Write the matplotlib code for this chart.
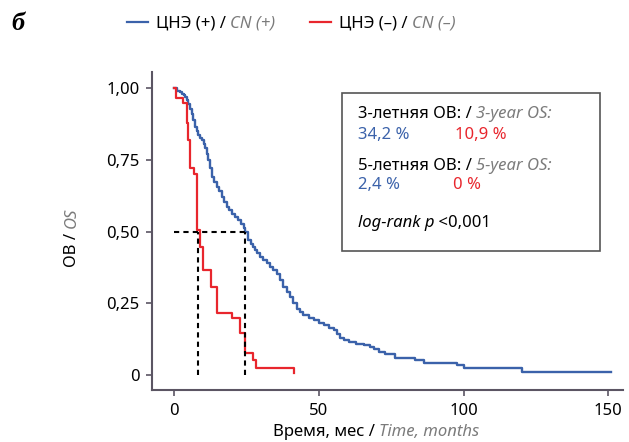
import matplotlib
matplotlib.use("Agg")
import matplotlib.pyplot as plt

plt.rcParams['font.family'] = ['Noto Sans', 'DejaVu Sans']

# survival curves (months, OS)
cn_pos_t = [0, 1.1, 1.9, 2.7, 3.3, 3.8, 4.4, 4.9, 5.5, 6.1,
            6.7, 7.3, 7.9, 8.4, 9.0, 9.6, 10.2, 10.7, 11.3, 11.9,
            12.5, 13.0, 13.9, 14.7, 15.6, 16.5, 17.4, 18.2, 19.0, 19.9,
            21.0, 22.2, 23.1, 24.0, 24.6, 25.7, 26.5, 27.4, 28.0, 28.6,
            29.8, 30.9, 32.0, 33.2, 34.3, 35.5, 36.6, 37.8, 38.9, 40.1,
            41.2, 42.4, 43.5, 44.7, 46.5, 48.2, 50.0, 51.7, 53.4, 55.1,
            56.3, 57.4, 58.8, 60.3, 63.0, 65.5, 67.8, 69.2, 70.7, 73.0,
            76.5, 83.4, 86.2, 97.8, 100.1, 120.2, 150.9]
cn_pos_s = [1.0, 0.99, 0.985, 0.981, 0.976, 0.970, 0.958, 0.946, 0.928, 0.911,
            0.888, 0.865, 0.850, 0.836, 0.827, 0.819, 0.805, 0.790, 0.770, 0.749,
            0.720, 0.691, 0.674, 0.657, 0.640, 0.622, 0.604, 0.586, 0.575, 0.563,
            0.552, 0.540, 0.525, 0.511, 0.50, 0.470, 0.458, 0.447, 0.435, 0.424,
            0.412, 0.401, 0.389, 0.377, 0.366, 0.354, 0.331, 0.308, 0.290, 0.273,
            0.252, 0.232, 0.220, 0.209, 0.200, 0.192, 0.183, 0.174, 0.165, 0.157,
            0.142, 0.128, 0.122, 0.116, 0.107, 0.105, 0.099, 0.090, 0.081, 0.075,
            0.061, 0.052, 0.043, 0.035, 0.023, 0.012, 0.012]

cn_neg_t = [0, 0.8, 3.2, 4.4, 4.8, 5.5, 7.0, 8.0, 9.0, 10.0, 12.8, 14.8, 20.0, 22.8, 24.6,
            27.4, 28.4, 41.3]
cn_neg_s = [1.0, 0.965, 0.948, 0.88, 0.82, 0.72, 0.70, 0.505, 0.446, 0.366, 0.307, 0.216,
            0.199, 0.146, 0.077, 0.052, 0.024, 0.006]

median_pos = 24.6
median_neg = 8.2

xticks = [0, 50, 100, 150]
yticks = [0, 0.25, 0.5, 0.75, 1.0]
ytick_labels = ["0", "0,25", "0,50", "0,75", "1,00"]

BLUE = "#3b62aa"
RED = "#e8262d"
GRAY = "#7b7b7b"
SPINE = "#5b5563"

fig = plt.figure(figsize=(6.29, 4.42), dpi=100)
ax = fig.add_axes([0.2417, 0.1176, 0.7483, 0.7194])

ax.step(cn_pos_t, cn_pos_s, where="post", color=BLUE, lw=1.7)
ax.step(cn_neg_t, cn_neg_s, where="post", color=RED, lw=1.6)

# medians
dash = (0, (2.5, 2))
ax.plot([0, median_pos], [0.5, 0.5], color="black", ls=dash, lw=1.5)
ax.plot([median_neg, median_neg], [0, 0.5], color="black", ls=dash, lw=1.5)
ax.plot([median_pos, median_pos], [0, 0.5], color="black", ls=dash, lw=1.5)

ax.set_xlim(-7.6, 155)
ax.set_ylim(-0.052, 1.056)
ax.set_xticks(xticks)
ax.set_yticks(yticks)
ax.set_yticklabels(ytick_labels)
for s in ["top", "right"]:
    ax.spines[s].set_visible(False)
for s in ["left", "bottom"]:
    ax.spines[s].set_color(SPINE)
    ax.spines[s].set_linewidth(1.5)
ax.tick_params(direction="out", length=4, width=1.2, color=SPINE, labelsize=12, pad=5)


def chain(pieces, x, y, rotation=0, size=12):
    # draw text pieces one after another, each with its own colour / style
    prev = None
    for txt, color, style in pieces:
        if prev is None:
            prev = fig.text(x, y, txt, color=color, style=style, fontsize=size,
                            rotation=rotation, ha="left", va="bottom")
        elif rotation == 0:
            prev = ax.annotate(txt, xy=(1, 0), xycoords=prev, color=color, style=style,
                               fontsize=size, ha="left", va="bottom", annotation_clip=False)
        else:
            prev = ax.annotate(txt, xy=(0, 1), xycoords=prev, color=color, style=style,
                               fontsize=size, rotation=rotation, ha="left", va="bottom",
                               annotation_clip=False)
    return prev


# legend on top
fig.add_artist(plt.Line2D([127 / 629, 148 / 629], [1 - 22 / 442] * 2, color=BLUE, lw=1.6))
fig.add_artist(plt.Line2D([310 / 629, 331 / 629], [1 - 22 / 442] * 2, color=RED, lw=1.6))
chain([("ЦНЭ (+) / ", "black", "normal"), ("CN (+)", GRAY, "italic")],
      156 / 629, 1 - 32 / 442)
chain([("ЦНЭ (–) / ", "black", "normal"), ("CN (–)", GRAY, "italic")],
      339 / 629, 1 - 32 / 442)

fig.text(11 / 629, 1 - 23 / 442, "б", family="Liberation Serif", weight="bold",
         style="italic", fontsize=19, va="center", ha="left")

# axis labels
chain([("ОВ / ", "black", "normal"), ("OS", GRAY, "italic")], 64 / 629, 1 - 267 / 442,
      rotation=90)
chain([("Время, мес / ", "black", "normal"), ("Time, months", GRAY, "italic")],
      273 / 629, 1 - 442 / 442 + 0.005)

# box with statistics
box = plt.Rectangle((342 / 629, 1 - 251 / 442), 258 / 629, 158 / 442, transform=fig.transFigure,
                    fill=False, edgecolor="#555555", lw=1.2)
fig.add_artist(box)
chain([("3-летняя ОВ: / ", "black", "normal"), ("3-year OS:", GRAY, "italic")],
      358 / 629, 1 - 122 / 442)
fig.text(358 / 629, 1 - 135 / 442, "34,2 %", color=BLUE, fontsize=12, va="center")
fig.text(455 / 629, 1 - 135 / 442, "10,9 %", color=RED, fontsize=12, va="center")
chain([("5-летняя ОВ: / ", "black", "normal"), ("5-year OS:", GRAY, "italic")],
      358 / 629, 1 - 174 / 442)
fig.text(358 / 629, 1 - 185 / 442, "2,4 %", color=BLUE, fontsize=12, va="center")
fig.text(453 / 629, 1 - 185 / 442, "0 %", color=RED, fontsize=12, va="center")
chain([("log-rank p", "black", "italic"), (" <0,001", "black", "normal")],
      358 / 629, 1 - 231 / 442)

fig.savefig("out.png", dpi=100)
